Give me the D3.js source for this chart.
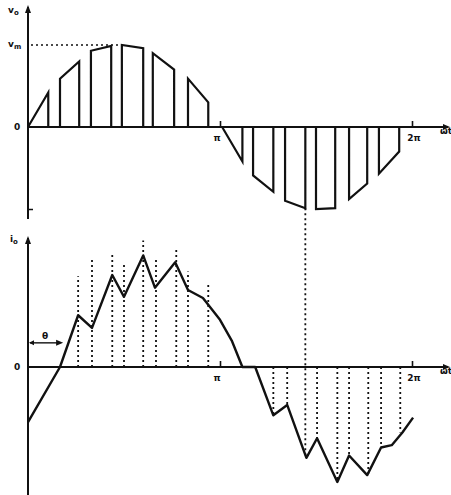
<!DOCTYPE html>
<html>
<head>
<meta charset="utf-8">
<script src="https://cdn.jsdelivr.net/npm/d3@7"></script>
<style>
  body { margin: 0; background: #fff; }
  svg text { font-family: "DejaVu Sans", sans-serif; font-weight: bold; font-size: 9px; fill: #111; }
</style>
</head>
<body>
<div id="chart"></div>
<script>
// angles in degrees of wt, values per unit (Vm for voltage, peak for current)
var posPulses = [
  [0, 19, 0, 0.42],
  [30, 48, 0.59, 0.80],
  [59, 78, 0.93, 0.99],
  [88, 108, 1.0, 0.96],
  [117, 137, 0.90, 0.70],
  [150, 169, 0.59, 0.30]
];
var negPulses = [
  [182, 201, 0, -0.42],
  [211, 230, -0.59, -0.79],
  [241, 260, -0.90, -0.99],
  [270, 288, -1.0, -0.99],
  [301, 318, -0.88, -0.69],
  [329, 348, -0.57, -0.30]
];
var currentPts = [
  [0, -0.48], [30, 0], [47, 0.45], [60, 0.34], [79, 0.80], [90, 0.61],
  [108, 0.97], [119, 0.69], [138, 0.91], [150, 0.67], [164, 0.60],
  [180, 0.41], [191, 0.23], [201, 0], [213, 0], [230, -0.42], [243, -0.33],
  [261, -0.79], [271, -0.62], [290, -1.0], [301, -0.77], [318, -0.94],
  [331, -0.70], [341, -0.68], [351, -0.57], [361, -0.44]
];
var posDots = [
  [47, 0.79], [60, 0.94], [79, 0.98], [90, 0.89], [108, 1.10],
  [120, 0.95], [139, 1.03], [150, 0.83], [169, 0.73]
];
var negDots = [
  [230, -0.42], [243, -0.33], [271, -0.62], [290, -1.0], [301, -0.77],
  [319, -0.94], [331, -0.70], [349, -0.57]
];
var markAngle = 260;      // dotted line linking the two panels
var thetaDeg = 32;
var xTicks = [180, 360];
var xTickLabels = ["\u03c0", "2\u03c0"];

var W = 451, H = 495;
var svg = d3.select("#chart").append("svg").attr("width", W).attr("height", H);
svg.append("rect").attr("width", W).attr("height", H).attr("fill", "#fff");

var x = d3.scaleLinear().domain([0, 360]).range([28, 412]);
var yV = d3.scaleLinear().domain([-1, 1]).range([209, 45]);
var yI = d3.scaleLinear().domain([-1, 1]).range([482, 252]);

var ink = "#111";

function arrowHead(g, px, py, dir) {
  // dir: "r" right, "u" up, "l" left
  var p;
  if (dir === "r") p = [[px, py], [px - 7, py - 3], [px - 7, py + 3]];
  else if (dir === "l") p = [[px, py], [px + 5, py - 2.5], [px + 5, py + 2.5]];
  else p = [[px, py], [px - 3, py + 8], [px + 3, py + 8]];
  g.append("path").attr("d", "M" + p.join("L") + "Z").attr("fill", ink);
}

function panelAxes(y0, yTop, yBot, tickY) {
  var g = svg.append("g");
  g.append("line").attr("x1", x(0)).attr("x2", 448).attr("y1", y0).attr("y2", y0)
    .attr("stroke", ink).attr("stroke-width", 2);
  arrowHead(g, 450, y0, "r");
  g.append("line").attr("x1", x(0)).attr("x2", x(0)).attr("y1", yBot).attr("y2", yTop + 2)
    .attr("stroke", ink).attr("stroke-width", 2);
  arrowHead(g, x(0), yTop, "u");
  var ax = g.append("g").attr("transform", "translate(0," + y0 + ")")
    .call(d3.axisTop(x).tickValues(xTicks).tickSize(6).tickSizeOuter(0).tickFormat(function () { return ""; }));
  ax.select(".domain").remove();
  ax.selectAll("line").attr("stroke", ink).attr("stroke-width", 1.6);
  g.selectAll("text.tl").data(xTicks).enter().append("text")
    .attr("x", function (d, i) { return x(d) + (i === 0 ? -3 : 2); })
    .attr("y", y0 + tickY)
    .attr("text-anchor", "middle")
    .text(function (d, i) { return xTickLabels[i]; });
  g.append("text").attr("x", 440).attr("y", y0 + 7).text("\u03c9t");
  g.append("text").attr("x", 14).attr("y", y0 + 3).text("0");
  return g;
}

// ---- top panel: output voltage
var gV = panelAxes(yV(0), 5, 219, 14);
var yAx = gV.append("g").attr("transform", "translate(" + x(0) + ",0)")
  .call(d3.axisRight(yV).tickValues([-1]).tickSize(5).tickFormat(function () { return ""; }));
yAx.select(".domain").remove();
yAx.selectAll("line").attr("stroke", ink).attr("stroke-width", 1.5);

var vLabel = gV.append("text").attr("x", 8).attr("y", 13);
vLabel.append("tspan").text("v");
vLabel.append("tspan").attr("dy", 2).attr("font-size", "7px").text("o");
var mLabel = gV.append("text").attr("x", 8).attr("y", 47);
mLabel.append("tspan").text("v");
mLabel.append("tspan").attr("dy", 2).attr("font-size", "7px").text("m");

gV.append("line").attr("x1", x(0) + 3).attr("x2", x(86)).attr("y1", yV(1)).attr("y2", yV(1))
  .attr("stroke", ink).attr("stroke-width", 1.3).attr("stroke-dasharray", "2,3");

var vPts = [[0, 0]];
posPulses.concat(negPulses).forEach(function (p) {
  vPts.push([p[0], 0], [p[0], p[2]], [p[1], p[3]], [p[1], 0]);
});
vPts.push([360, 0]);
gV.append("path")
  .attr("d", d3.line().x(function (d) { return x(d[0]); }).y(function (d) { return yV(d[1]); })(vPts))
  .attr("fill", "none").attr("stroke", ink).attr("stroke-width", 2.2).attr("stroke-linejoin", "miter");

// ---- bottom panel: output current
var gI = panelAxes(yI(0), 236, 495, 14);
var iLabel = gI.append("text").attr("x", 10).attr("y", 242);
iLabel.append("tspan").text("i");
iLabel.append("tspan").attr("dy", 2).attr("font-size", "7px").text("o");

var dotted = gI.append("g").attr("stroke", ink).attr("stroke-width", 1.8)
  .attr("stroke-dasharray", "2,3");
dotted.selectAll("line.p").data(posDots.concat(negDots)).enter().append("line")
  .attr("x1", function (d) { return x(d[0]); }).attr("x2", function (d) { return x(d[0]); })
  .attr("y1", yI(0)).attr("y2", function (d) { return yI(d[1]); });
dotted.append("line")
  .attr("x1", x(markAngle)).attr("x2", x(markAngle))
  .attr("y1", yV(-0.99)).attr("y2", yI(-0.79));

gI.append("path")
  .attr("d", d3.line().x(function (d) { return x(d[0]); }).y(function (d) { return yI(d[1]); })(currentPts))
  .attr("fill", "none").attr("stroke", ink).attr("stroke-width", 2.4).attr("stroke-linejoin", "round");

// theta marker
var ty = yI(0.21);
gI.append("line").attr("x1", x(0) + 2).attr("x2", x(thetaDeg) - 2).attr("y1", ty).attr("y2", ty)
  .attr("stroke", ink).attr("stroke-width", 1.4);
arrowHead(gI, x(0) + 1, ty, "l");
arrowHead(gI, x(thetaDeg) + 1, ty, "r");
gI.append("text").attr("x", x(thetaDeg / 2)).attr("y", ty - 4).attr("text-anchor", "middle").text("\u03b8");
</script>
</body>
</html>
